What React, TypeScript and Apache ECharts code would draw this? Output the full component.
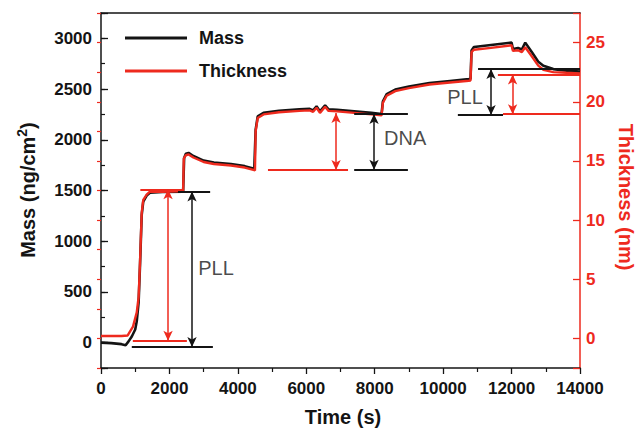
import React, { useEffect, useRef } from 'react';
import * as echarts from 'echarts';

const FONT = "'Liberation Sans', Arial, Helvetica, sans-serif";
const BLACK = '#141414';
const RED = '#ee2a1e';

// Mass curve (ng/cm2) vs time (s)
const massTime = [0, 300, 600, 720, 800, 900, 1000, 1045, 1100, 1140, 1190, 1235, 1335, 1430, 1800, 2400, 2430, 2480, 2560, 2700, 3000, 3300, 3800, 4200, 4480, 4520, 4580, 4750, 5200, 5800, 6100, 6200, 6300, 6400, 6550, 6650, 6900, 7400, 7900, 8200, 8240, 8350, 8600, 9000, 9600, 10200, 10750, 10800, 10830, 10900, 11400, 12000, 12040, 12190, 12300, 12400, 12600, 12780, 12930, 13220, 13600, 14000];
const massValues = [0, -5, -15, -25, 10, 60, 130, 210, 400, 760, 1260, 1390, 1450, 1478, 1485, 1488, 1820, 1862, 1870, 1840, 1795, 1775, 1760, 1740, 1715, 2100, 2230, 2265, 2285, 2300, 2305, 2290, 2330, 2280, 2340, 2300, 2295, 2280, 2265, 2255, 2380, 2450, 2495, 2525, 2560, 2580, 2598, 2600, 2880, 2915, 2935, 2958, 2895, 2905, 2890, 2958, 2860, 2770, 2730, 2697, 2682, 2672];

// Thickness curve (nm) vs time (s)
const thickTime = [0, 300, 600, 780, 850, 935, 1045, 1100, 1140, 1190, 1235, 1335, 1430, 1800, 2400, 2420, 2480, 2560, 2700, 3000, 3300, 3800, 4200, 4480, 4500, 4520, 4580, 4750, 5200, 5800, 6100, 6200, 6300, 6400, 6550, 6650, 6900, 7400, 7900, 8200, 8240, 8350, 8600, 9000, 9600, 10200, 10750, 10800, 10830, 10900, 11400, 12000, 12040, 12190, 12300, 12400, 12600, 12780, 12930, 13220, 13600, 14000];
const thickValues = [0.2, 0.2, 0.2, 0.25, 0.6, 1.0, 2.2, 3.5, 6.4, 10.6, 11.7, 12.15, 12.4, 12.4, 12.45, 15.2, 15.48, 15.55, 15.29, 14.91, 14.74, 14.61, 14.44, 14.22, 14.2, 17.5, 18.63, 18.93, 19.11, 19.23, 19.27, 19.15, 19.49, 19.06, 19.57, 19.23, 19.19, 19.06, 18.93, 18.85, 19.92, 20.51, 20.9, 21.15, 21.46, 21.63, 21.78, 21.8, 24.2, 24.4, 24.55, 24.77, 24.3, 24.35, 24.2, 24.6, 23.8, 23.05, 22.7, 22.5, 22.45, 22.4];

// Annotations: horizontal segments [tStart, tEnd, value]
const massLevels = [
  [2250, 3190, 1490],
  [900, 3270, -42],
  [7400, 8970, 2255],
  [7400, 8970, 1705],
  [11020, 14000, 2698],
  [10430, 11750, 2245],
];
const thickLevels = [
  [1150, 2400, 12.6],
  [930, 2510, -0.2],
  [4880, 7220, 14.24],
  [11600, 14000, 22.3],
  [11750, 14000, 18.95],
];
// Double arrows [t, from, to]
const massArrows = [
  [2660, 1490, -42],
  [7980, 2255, 1705],
  [11400, 2698, 2245],
];
const thickArrows = [
  [1960, 12.6, -0.2],
  [6870, 19.05, 14.24],
  [12030, 22.3, 18.95],
];
// Step labels [t, mass, text]
const stepLabelT = [3360, 8890, 10640];
const stepLabelM = [735, 2017, 2425];
const stepLabelText = ['PLL', 'DNA', 'PLL'];

const timeTicks = { min: 0, max: 14000, interval: 2000 };

export default function App() {
  const ref = useRef<HTMLDivElement>(null);
  useEffect(() => {
    const chart = echarts.init(ref.current!, null, { renderer: 'svg' });

    const level = (seg: number[], color: string) => [
      { coord: [seg[0], seg[2]], symbol: 'none', lineStyle: { color, width: 1.8, type: 'solid' } },
      { coord: [seg[1], seg[2]], symbol: 'none' },
    ];
    const arrow = (a: number[], color: string) => [
      { coord: [a[0], a[1]], symbol: 'arrow', lineStyle: { color, width: 1.5, type: 'solid' } },
      { coord: [a[0], a[2]], symbol: 'arrow' },
    ];

    const tickLabel = { fontFamily: FONT, fontWeight: 'bold' as const, fontSize: 17 };

    const option: any = {
      animation: false,
      backgroundColor: '#ffffff',
      grid: { left: 101, right: 59, top: 13, bottom: 61, containLabel: false },
      legend: {
        data: ['Mass', 'Thickness'],
        orient: 'vertical',
        left: 125,
        top: 28,
        padding: 0,
        icon: 'rect',
        itemWidth: 62,
        itemHeight: 3,
        itemGap: 13,
        textStyle: { color: BLACK, fontFamily: FONT, fontWeight: 'bold', fontSize: 18, lineHeight: 20, padding: [0, 0, 0, 7] },
        selectedMode: false,
      },
      xAxis: [
        {
          type: 'value',
          ...timeTicks,
          position: 'bottom',
          axisLine: { show: true, onZero: false, lineStyle: { color: BLACK, width: 1.5 } },
          axisTick: { show: true, inside: false, length: 6, lineStyle: { color: BLACK, width: 1.3 } },
          minorTick: { show: true, splitNumber: 2, length: 4, lineStyle: { color: BLACK, width: 1.2 } },
          axisLabel: { ...tickLabel, color: BLACK, margin: 12, formatter: (v: number) => String(v) },
          splitLine: { show: false },
        },
        {
          type: 'value',
          ...timeTicks,
          position: 'top',
          axisLine: { show: true, onZero: false, lineStyle: { color: BLACK, width: 1.5 } },
          axisTick: { show: false },
          axisLabel: { show: false },
          splitLine: { show: false },
        },
      ],
      yAxis: [
        {
          type: 'value',
          min: -250,
          max: 3250,
          splitNumber: 7,
          position: 'left',
          axisLine: { show: true, onZero: false, lineStyle: { color: BLACK, width: 1.5 } },
          axisTick: { show: true, inside: true, length: 7, lineStyle: { color: BLACK, width: 1.3 } },
          axisLabel: {
            ...tickLabel,
            color: BLACK,
            margin: 9,
            formatter: (v: number) => (v % 500 === 0 ? String(v) : ''),
          },
          splitLine: { show: false },
        },
        {
          type: 'value',
          min: -250,
          max: 3250,
          interval: 250,
          position: 'left',
          axisLine: { show: false },
          axisTick: { show: true, inside: true, length: 4, lineStyle: { color: BLACK, width: 1.2 } },
          axisLabel: { show: false },
          splitLine: { show: false },
        },
        {
          type: 'value',
          min: -2.5,
          max: 27.5,
          splitNumber: 6,
          position: 'right',
          axisLine: { show: true, onZero: false, lineStyle: { color: RED, width: 1.5 } },
          axisTick: { show: true, inside: true, length: 7, lineStyle: { color: RED, width: 1.3 } },
          axisLabel: {
            ...tickLabel,
            color: RED,
            margin: 6,
            formatter: (v: number) => (v % 5 === 0 ? String(v) : ''),
          },
          splitLine: { show: false },
        },
        {
          type: 'value',
          min: -2.5,
          max: 27.5,
          interval: 2.5,
          position: 'right',
          axisLine: { show: false },
          axisTick: { show: true, inside: true, length: 4, lineStyle: { color: RED, width: 1.2 } },
          axisLabel: { show: false },
          splitLine: { show: false },
        },
      ],
      series: [
        {
          name: 'Mass',
          type: 'line',
          xAxisIndex: 0,
          yAxisIndex: 0,
          data: massTime.map((t, i) => [t, massValues[i]]),
          showSymbol: false,
          symbol: 'none',
          lineStyle: { color: BLACK, width: 2.6 },
          itemStyle: { color: BLACK },
          z: 3,
          markLine: {
            silent: true,
            animation: false,
            symbolSize: [7, 10],
            label: { show: false },
            emphasis: { disabled: true },
            data: [
              ...massLevels.map((s) => level(s, BLACK)),
              ...massArrows.map((a) => arrow(a, BLACK)),
            ],
          },
        },
        {
          name: 'Thickness',
          type: 'line',
          xAxisIndex: 0,
          yAxisIndex: 2,
          data: thickTime.map((t, i) => [t, thickValues[i]]),
          showSymbol: false,
          symbol: 'none',
          lineStyle: { color: RED, width: 2.4 },
          itemStyle: { color: RED },
          z: 4,
          markLine: {
            silent: true,
            animation: false,
            symbolSize: [7, 10],
            label: { show: false },
            emphasis: { disabled: true },
            data: [
              ...thickLevels.map((s) => level(s, RED)),
              ...thickArrows.map((a) => arrow(a, RED)),
            ],
          },
        },
        {
          name: 'labels',
          type: 'scatter',
          xAxisIndex: 0,
          yAxisIndex: 0,
          symbolSize: 1,
          itemStyle: { color: 'rgba(0,0,0,0)' },
          silent: true,
          data: stepLabelT.map((t, i) => ({ value: [t, stepLabelM[i]], name: stepLabelText[i] })),
          label: {
            show: true,
            position: 'inside',
            formatter: '{b}',
            color: '#1a1a1a',
            fontFamily: FONT,
            fontSize: 20,
          },
          z: 5,
        },
      ],
      graphic: [
        {
          type: 'text',
          x: 28,
          y: 190,
          rotation: Math.PI / 2,
          style: {
            text: 'Mass (ng/cm{sup|2})',
            fill: BLACK,
            fontFamily: FONT,
            fontWeight: 'bold',
            fontSize: 20,
            lineHeight: 26,
            align: 'center',
            verticalAlign: 'middle',
            rich: {
              sup: { fill: BLACK, fontFamily: FONT, fontWeight: 'bold', fontSize: 14, lineHeight: 14, verticalAlign: 'top' },
            },
          },
        },
        {
          type: 'text',
          x: 626,
          y: 197,
          rotation: -Math.PI / 2,
          style: {
            text: 'Thickness (nm)',
            fill: RED,
            fontFamily: FONT,
            fontWeight: 'bold',
            fontSize: 20,
            align: 'center',
            verticalAlign: 'middle',
          },
        },
        {
          type: 'text',
          x: 343,
          y: 417,
          style: {
            text: 'Time (s)',
            fill: BLACK,
            fontFamily: FONT,
            fontWeight: 'bold',
            fontSize: 20,
            align: 'center',
            verticalAlign: 'middle',
          },
        },
      ],
    };

    chart.setOption(option);
    return () => chart.dispose();
  }, []);

  return (
    <div
      ref={ref}
      style={{ position: 'fixed', left: 0, top: 0, width: 639, height: 429, background: '#ffffff' }}
    />
  );
}
